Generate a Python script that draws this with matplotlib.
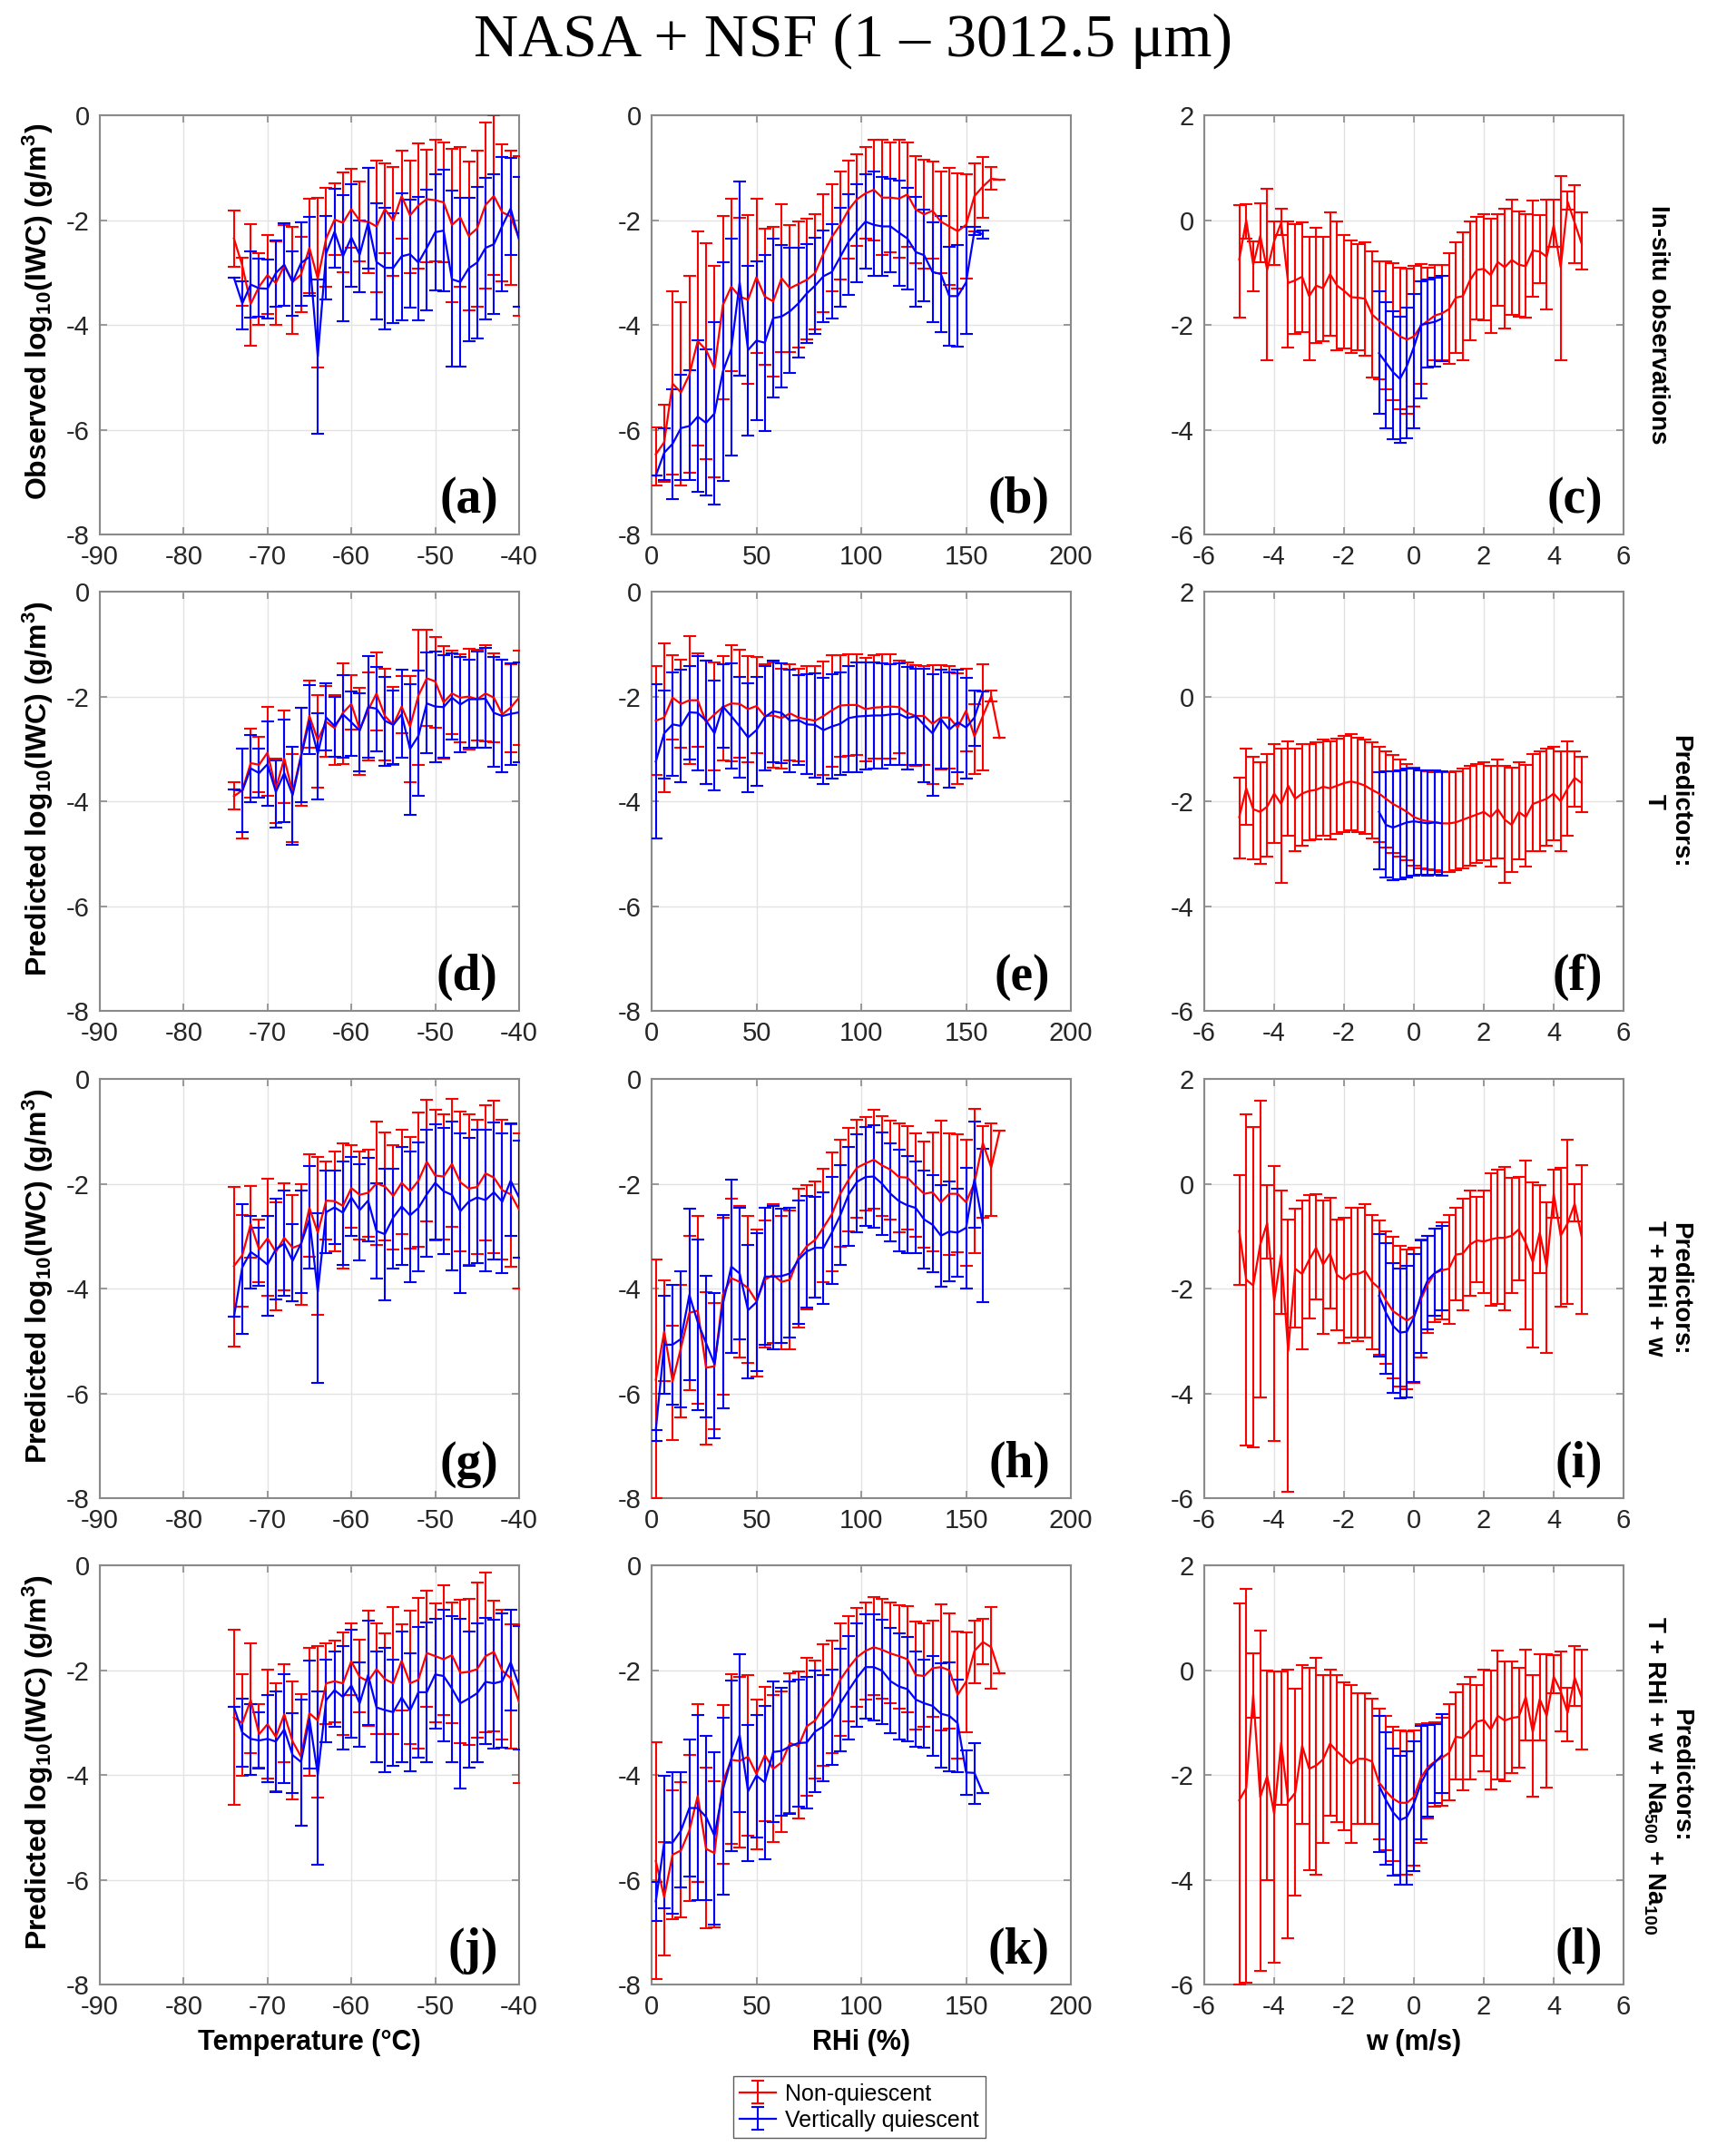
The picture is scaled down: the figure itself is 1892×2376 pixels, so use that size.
import numpy as np
import matplotlib
matplotlib.use('Agg')
import matplotlib.pyplot as plt

plt.rcParams['font.family'] = ['Liberation Sans', 'DejaVu Sans']
plt.rcParams['axes.unicode_minus'] = False
plt.rcParams['mathtext.fontset'] = 'custom'
plt.rcParams['mathtext.bf'] = 'Liberation Sans:bold'
plt.rcParams['mathtext.rm'] = 'Liberation Sans:bold'
plt.rcParams['mathtext.default'] = 'bf'

# ---------------- x grids ----------------
T_red = np.arange(-74, -39, 1)
T_blue = np.arange(-74, -39, 1)
RH_red = np.arange(2, 167, 4)
RH_blue = np.arange(2, 159, 4)
W_red = np.round(np.arange(-5.0, 4.81, 0.2), 1)
W_blue = np.round(np.arange(-1.0, 0.81, 0.2), 1)

# ---------------- (a) ----------------
a_red_mean = [-2.35,-2.87,-3.6,-3.27,-3.05,-3.2,-2.87,-3.18,-3.04,-2.53,-3.12,-2.35,-1.99,-2.05,-1.79,-2.01,-2.03,-2.12,-1.79,-2.01,-1.54,-1.91,-1.72,-1.6,-1.62,-1.66,-2.09,-1.95,-2.3,-2.16,-1.71,-1.54,-1.85,-1.93,-2.35]
a_red_hi = [-1.81,-2.72,-2.07,-2.63,-2.29,-2.4,-2.09,-2.12,-2.32,-1.6,-1.57,-1.39,-1.3,-1.09,-1.02,-1.27,-1.01,-0.87,-0.91,-0.98,-0.67,-0.86,-0.53,-0.65,-0.46,-0.52,-0.64,-0.6,-0.88,-0.67,-0.14,0.0,-0.55,-0.68,-0.78]
a_red_lo = [-2.89,-3.64,-4.39,-4.0,-3.79,-4.0,-3.63,-4.17,-3.76,-3.4,-4.81,-3.27,-2.67,-3.0,-2.53,-2.78,-3.02,-3.38,-2.63,-3.07,-2.36,-3.02,-2.92,-2.8,-2.79,-2.81,-3.56,-3.28,-3.72,-3.65,-3.3,-3.05,-3.17,-3.24,-3.82]
a_blue_mean = [-3.1,-3.59,-3.23,-3.3,-3.31,-3.01,-2.85,-3.18,-2.82,-2.7,-4.6,-2.63,-2.22,-2.69,-2.33,-2.66,-2.05,-2.8,-2.91,-2.91,-2.69,-2.65,-2.81,-2.53,-2.23,-2.2,-3.13,-3.18,-2.92,-2.81,-2.53,-2.46,-2.11,-1.78,-2.37]
a_blue_hi = [-3.1,-3.17,-2.59,-2.74,-2.75,-2.39,-2.06,-2.59,-2.05,-1.94,-3.13,-1.92,-1.4,-1.53,-1.31,-2.01,-1.0,-1.67,-1.77,-1.87,-1.49,-1.61,-1.55,-1.41,-1.13,-1.04,-1.43,-1.58,-1.58,-1.36,-1.2,-1.12,-0.8,-0.82,-1.18]
a_blue_lo = [-3.1,-4.09,-3.86,-3.85,-3.88,-3.66,-3.63,-3.83,-3.64,-3.45,-6.08,-3.51,-2.9,-3.93,-3.28,-3.37,-2.92,-3.89,-4.08,-3.96,-3.92,-3.67,-3.91,-3.72,-3.34,-3.36,-4.8,-4.8,-4.31,-4.26,-3.89,-3.79,-3.36,-2.66,-3.66]

# ---------------- (b) ----------------
b_red_mean = [-6.47,-6.24,-5.12,-5.29,-4.95,-4.31,-4.48,-4.83,-3.62,-3.27,-3.46,-3.52,-3.09,-3.46,-3.55,-3.11,-3.3,-3.22,-3.14,-3.01,-2.64,-2.32,-2.09,-1.8,-1.6,-1.49,-1.42,-1.57,-1.57,-1.59,-1.51,-1.8,-1.89,-1.82,-2.03,-2.12,-2.21,-2.09,-1.54,-1.36,-1.21,-1.23]
b_red_hi = [-5.95,-5.53,-3.36,-3.56,-3.07,-2.22,-2.44,-2.87,-1.92,-1.6,-1.96,-1.9,-1.59,-2.17,-2.12,-1.69,-2.1,-2.02,-1.98,-1.89,-1.51,-1.31,-1.07,-0.86,-0.74,-0.6,-0.46,-0.47,-0.51,-0.47,-0.51,-0.78,-0.85,-0.88,-1.08,-1.01,-1.11,-1.12,-0.91,-0.8,-0.99,-1.23]
b_red_lo = [-7.07,-6.99,-6.86,-7.07,-6.82,-6.3,-6.56,-6.91,-5.42,-4.89,-4.97,-5.13,-4.53,-4.76,-4.99,-4.51,-4.51,-4.44,-4.28,-4.08,-3.75,-3.35,-3.13,-2.73,-2.5,-2.35,-2.38,-2.67,-2.61,-2.71,-2.51,-2.82,-2.93,-2.74,-3.01,-3.23,-3.3,-3.12,-2.21,-1.95,-1.42,-1.23]
b_blue_mean = [-6.88,-6.44,-6.27,-5.97,-5.93,-5.75,-5.87,-5.69,-4.89,-4.46,-3.19,-4.48,-4.3,-4.34,-3.87,-3.84,-3.74,-3.59,-3.4,-3.25,-3.07,-2.99,-2.7,-2.41,-2.21,-2.03,-2.09,-2.12,-2.12,-2.24,-2.35,-2.61,-2.67,-2.99,-3.03,-3.45,-3.45,-3.19,-2.21,-2.27]
b_blue_hi = [-6.88,-5.98,-5.23,-4.96,-4.86,-4.3,-4.47,-3.94,-2.81,-2.36,-1.27,-2.88,-2.78,-2.66,-2.36,-2.47,-2.52,-2.52,-2.45,-2.33,-2.2,-2.08,-1.77,-1.51,-1.32,-1.13,-1.08,-1.17,-1.21,-1.24,-1.39,-1.56,-1.8,-2.04,-1.92,-2.51,-2.48,-2.13,-2.12,-2.19]
b_blue_lo = [-6.88,-6.96,-7.32,-6.96,-6.96,-7.18,-7.25,-7.42,-6.97,-6.49,-4.97,-6.12,-5.81,-6.03,-5.39,-5.19,-4.92,-4.63,-4.34,-4.17,-3.94,-3.87,-3.66,-3.43,-3.19,-2.92,-3.07,-3.06,-3.0,-3.25,-3.33,-3.66,-3.55,-3.94,-4.13,-4.39,-4.42,-4.18,-2.28,-2.36]

# ---------------- (c) ----------------
c_red_mean = [-0.75,0.0,-0.85,-0.3,-0.95,-0.4,-0.05,-1.2,-1.15,-1.08,-1.45,-1.25,-1.3,-1.03,-1.25,-1.35,-1.47,-1.48,-1.5,-1.8,-1.92,-2.02,-2.12,-2.22,-2.28,-2.22,-2.02,-1.92,-1.82,-1.78,-1.7,-1.48,-1.45,-1.15,-0.95,-0.93,-1.05,-0.8,-0.9,-0.76,-0.85,-0.88,-0.58,-0.6,-0.7,-0.1,-0.9,0.35,-0.05,-0.45]
c_red_hi = [0.29,0.3,-0.4,0.32,0.6,-0.03,0.22,-0.02,-0.08,-0.05,-0.32,-0.15,-0.32,0.15,-0.02,-0.28,-0.38,-0.45,-0.42,-0.6,-0.78,-0.79,-0.82,-0.91,-0.93,-0.87,-0.84,-0.91,-0.85,-0.85,-0.63,-0.43,-0.24,-0.02,0.07,0.12,0.03,0.12,0.21,0.39,0.16,0.11,0.38,0.09,0.39,0.39,0.84,0.54,0.66,0.15]
c_red_lo = [-1.86,-0.35,-1.35,-0.8,-2.67,-0.85,-0.28,-2.44,-2.17,-2.14,-2.67,-2.35,-2.31,-2.21,-2.49,-2.45,-2.54,-2.49,-2.59,-3.01,-3.04,-3.22,-3.43,-3.61,-3.7,-3.56,-3.12,-2.81,-2.67,-2.67,-2.75,-2.53,-2.67,-2.3,-1.9,-1.91,-2.15,-1.63,-2.07,-1.81,-1.85,-1.86,-1.46,-1.21,-1.7,-0.51,-2.67,0.2,-0.82,-0.94]
c_blue_mean = [-2.54,-2.72,-2.9,-3.03,-2.78,-2.42,-2.0,-1.97,-1.94,-1.88]
c_blue_hi = [-1.36,-1.56,-1.74,-1.84,-1.67,-1.41,-1.16,-1.13,-1.1,-1.06]
c_blue_lo = [-3.7,-3.97,-4.18,-4.25,-4.16,-3.97,-3.4,-2.82,-2.79,-2.69]

# ---------------- (d) ----------------
d_red_mean = [-3.9,-3.79,-3.27,-3.3,-3.07,-3.76,-3.18,-3.83,-3.12,-2.37,-2.83,-2.48,-2.6,-2.31,-2.14,-2.63,-2.26,-1.94,-2.37,-2.54,-2.19,-2.57,-1.98,-1.65,-1.71,-2.11,-1.94,-2.02,-2.0,-2.05,-1.94,-2.02,-2.34,-2.21,-2.02]
d_red_hi = [-3.64,-3.0,-2.62,-2.76,-2.19,-3.19,-2.26,-3.09,-2.21,-1.69,-1.97,-1.79,-1.97,-1.36,-1.59,-1.84,-1.53,-1.16,-1.46,-1.81,-1.6,-1.6,-0.72,-0.72,-0.86,-1.03,-1.13,-1.2,-1.09,-1.1,-1.01,-1.17,-1.3,-1.38,-1.13]
d_red_lo = [-4.15,-4.7,-3.92,-3.83,-3.9,-4.42,-4.03,-4.77,-4.08,-2.98,-3.73,-3.15,-3.3,-3.28,-2.63,-3.49,-3.21,-2.65,-3.22,-3.3,-2.7,-3.63,-3.31,-2.56,-2.6,-3.18,-2.72,-2.88,-3.01,-2.83,-2.85,-2.87,-3.44,-3.07,-2.93]
d_blue_mean = [-3.78,-3.8,-3.37,-3.46,-3.29,-3.82,-3.46,-3.88,-3.15,-2.46,-3.09,-2.4,-2.56,-2.34,-2.49,-2.65,-2.2,-2.23,-2.46,-2.54,-2.34,-3.0,-2.75,-2.13,-2.19,-2.2,-2.02,-2.15,-2.05,-2.05,-2.04,-2.31,-2.37,-2.33,-2.3]
d_blue_hi = [-3.78,-3.0,-2.74,-3.0,-2.48,-3.21,-2.43,-2.95,-2.22,-1.78,-2.31,-1.75,-2.0,-1.59,-1.9,-1.94,-1.23,-1.43,-1.62,-1.88,-1.49,-1.76,-1.5,-1.15,-1.14,-1.21,-1.17,-1.25,-1.29,-1.14,-1.07,-1.24,-1.3,-1.36,-1.35]
d_blue_lo = [-3.78,-4.59,-4.01,-3.92,-4.08,-4.5,-4.4,-4.82,-4.02,-3.09,-3.96,-3.02,-3.15,-3.16,-3.13,-3.43,-3.17,-3.05,-3.33,-3.29,-3.17,-4.25,-3.89,-3.08,-3.26,-3.17,-2.82,-3.07,-2.98,-2.98,-2.98,-3.34,-3.44,-3.3,-3.25]

# ---------------- (e) ----------------
e_red_mean = [-2.46,-2.4,-2.02,-2.14,-2.07,-2.07,-2.49,-2.34,-2.2,-2.13,-2.14,-2.24,-2.18,-2.37,-2.36,-2.41,-2.32,-2.4,-2.43,-2.46,-2.37,-2.26,-2.17,-2.16,-2.16,-2.24,-2.21,-2.2,-2.19,-2.2,-2.31,-2.37,-2.37,-2.52,-2.4,-2.4,-2.59,-2.27,-2.76,-2.37,-1.99,-2.79]
e_red_hi = [-1.41,-0.99,-1.21,-1.3,-0.85,-1.17,-1.32,-1.34,-1.23,-1.02,-1.1,-1.22,-1.25,-1.39,-1.34,-1.46,-1.39,-1.46,-1.41,-1.41,-1.33,-1.21,-1.21,-1.19,-1.19,-1.26,-1.21,-1.2,-1.19,-1.32,-1.34,-1.4,-1.42,-1.4,-1.4,-1.42,-1.56,-1.47,-2.15,-1.39,-1.88,-2.79]
e_red_lo = [-3.49,-3.82,-2.82,-2.98,-3.29,-2.96,-3.67,-3.4,-3.21,-3.23,-3.17,-3.26,-3.08,-3.41,-3.35,-3.38,-3.21,-3.24,-3.47,-3.54,-3.49,-3.34,-3.14,-3.13,-3.12,-3.24,-3.18,-3.19,-3.18,-3.08,-3.3,-3.33,-3.31,-3.66,-3.39,-3.38,-3.67,-3.05,-3.47,-3.4,-2.1,-2.79]
e_blue_mean = [-3.24,-2.7,-2.53,-2.56,-2.3,-2.31,-2.46,-2.7,-2.19,-2.37,-2.57,-2.78,-2.64,-2.39,-2.28,-2.31,-2.46,-2.45,-2.53,-2.54,-2.64,-2.57,-2.52,-2.41,-2.38,-2.37,-2.36,-2.36,-2.34,-2.33,-2.41,-2.37,-2.54,-2.7,-2.43,-2.63,-2.49,-2.59,-2.4,-1.91]
e_blue_hi = [-1.76,-1.89,-1.54,-1.49,-1.42,-1.23,-1.31,-1.69,-1.39,-1.36,-1.62,-1.74,-1.62,-1.42,-1.32,-1.36,-1.49,-1.59,-1.57,-1.56,-1.65,-1.57,-1.54,-1.42,-1.34,-1.35,-1.34,-1.36,-1.38,-1.37,-1.43,-1.46,-1.46,-1.57,-1.49,-1.54,-1.49,-1.64,-1.88,-1.91]
e_blue_lo = [-4.7,-3.56,-3.52,-3.63,-3.2,-3.4,-3.66,-3.79,-2.97,-3.38,-3.55,-3.83,-3.7,-3.4,-3.25,-3.27,-3.44,-3.3,-3.48,-3.55,-3.66,-3.57,-3.5,-3.44,-3.44,-3.39,-3.37,-3.37,-3.3,-3.31,-3.39,-3.3,-3.63,-3.89,-3.37,-3.74,-3.45,-3.56,-2.94,-1.91]

# ---------------- (f) ----------------
f_red_mean = [-2.3,-1.75,-2.15,-2.2,-2.1,-1.85,-2.05,-1.7,-1.95,-1.85,-1.8,-1.78,-1.72,-1.75,-1.7,-1.65,-1.62,-1.65,-1.7,-1.78,-1.85,-1.95,-2.05,-2.12,-2.2,-2.3,-2.35,-2.38,-2.4,-2.42,-2.42,-2.4,-2.35,-2.3,-2.25,-2.2,-2.3,-2.15,-2.35,-2.45,-2.2,-2.3,-2.05,-2.0,-1.95,-1.85,-2.0,-1.75,-1.55,-1.65]
f_red_hi = [-1.55,-1.0,-1.15,-1.25,-1.1,-0.9,-1.0,-0.85,-1.0,-0.9,-0.9,-0.88,-0.82,-0.85,-0.8,-0.75,-0.72,-0.78,-0.82,-0.88,-0.95,-1.05,-1.12,-1.2,-1.28,-1.35,-1.4,-1.42,-1.45,-1.45,-1.45,-1.42,-1.38,-1.32,-1.28,-1.25,-1.32,-1.2,-1.32,-1.35,-1.25,-1.3,-1.1,-1.05,-1.0,-0.95,-1.05,-0.85,-1.05,-1.15]
f_red_lo = [-3.08,-2.45,-3.1,-3.2,-3.05,-2.8,-3.55,-2.65,-2.95,-2.85,-2.75,-2.72,-2.65,-2.72,-2.62,-2.58,-2.55,-2.58,-2.62,-2.7,-2.78,-2.88,-2.98,-3.05,-3.12,-3.22,-3.28,-3.3,-3.32,-3.35,-3.35,-3.32,-3.28,-3.22,-3.18,-3.12,-3.25,-3.08,-3.55,-3.35,-3.1,-3.25,-2.95,-2.95,-2.85,-2.75,-2.95,-2.65,-2.1,-2.2]
f_blue_mean = [-2.2,-2.45,-2.5,-2.45,-2.4,-2.38,-2.4,-2.42,-2.4,-2.42]
f_blue_hi = [-1.45,-1.42,-1.42,-1.4,-1.38,-1.38,-1.4,-1.4,-1.4,-1.42]
f_blue_lo = [-3.3,-3.45,-3.5,-3.48,-3.45,-3.42,-3.4,-3.42,-3.4,-3.42]

# ---------------- (g) ----------------
g_red_mean = [-3.57,-3.36,-2.77,-3.25,-3.04,-3.3,-3.03,-3.22,-3.16,-2.46,-2.93,-2.32,-2.33,-2.42,-2.08,-2.21,-2.17,-1.99,-2.05,-2.23,-1.98,-2.14,-1.94,-1.58,-1.84,-1.86,-1.62,-1.97,-2.09,-2.06,-1.8,-1.88,-2.12,-2.2,-2.49]
g_red_hi = [-2.06,-2.6,-2.04,-2.68,-1.91,-2.35,-1.98,-2.22,-2.0,-1.44,-1.49,-1.57,-1.39,-1.23,-1.26,-1.38,-1.35,-0.81,-1.01,-1.26,-0.97,-1.1,-0.63,-0.39,-0.58,-0.67,-0.38,-0.62,-0.68,-0.78,-0.5,-0.41,-0.77,-0.87,-1.03]
g_red_lo = [-5.1,-4.35,-3.41,-3.87,-4.13,-4.41,-4.03,-4.24,-4.31,-3.39,-4.5,-3.06,-3.28,-3.62,-2.84,-3.07,-3.01,-3.17,-3.08,-3.26,-2.96,-3.23,-3.2,-2.71,-3.08,-3.06,-2.82,-3.29,-3.54,-3.34,-3.08,-3.33,-3.45,-3.58,-4.0]
g_blue_mean = [-4.54,-3.59,-3.3,-3.41,-3.54,-3.25,-3.14,-3.47,-3.14,-2.68,-4.06,-2.54,-2.45,-2.55,-2.26,-2.5,-2.32,-2.9,-2.96,-2.64,-2.43,-2.6,-2.46,-2.2,-1.98,-2.14,-2.21,-2.52,-2.34,-2.26,-2.31,-2.16,-2.34,-1.94,-2.26]
g_blue_hi = [-4.54,-2.38,-2.61,-2.84,-2.61,-2.29,-2.12,-2.77,-2.13,-1.66,-2.56,-1.74,-1.74,-1.58,-1.48,-1.63,-1.51,-1.98,-1.71,-1.72,-1.3,-1.38,-1.21,-0.96,-0.87,-0.94,-0.81,-1.03,-1.13,-0.97,-0.96,-0.83,-1.04,-0.85,-1.17]
g_blue_lo = [-4.54,-4.87,-4.0,-3.95,-4.52,-4.2,-4.14,-4.24,-4.09,-3.61,-5.8,-3.33,-3.15,-3.55,-2.99,-3.46,-3.1,-3.81,-4.23,-3.61,-3.55,-3.87,-3.66,-3.4,-3.07,-3.34,-3.65,-4.08,-3.57,-3.52,-3.66,-3.45,-3.7,-2.99,-3.41]

# ---------------- (h) ----------------
h_red_mean = [-5.74,-4.82,-5.77,-5.13,-4.46,-4.42,-5.51,-5.48,-4.12,-3.8,-3.87,-3.99,-4.24,-3.83,-3.74,-3.87,-3.83,-3.41,-3.19,-3.07,-2.83,-2.58,-2.19,-1.92,-1.69,-1.61,-1.54,-1.65,-1.73,-1.87,-1.88,-2.04,-2.19,-2.16,-2.35,-2.19,-2.19,-2.35,-1.98,-1.22,-1.69,-0.99]
h_red_hi = [-3.45,-3.84,-4.7,-3.92,-3.0,-2.62,-4.07,-4.28,-2.64,-2.29,-2.42,-2.62,-2.87,-2.7,-2.39,-2.61,-2.5,-2.09,-2.02,-1.96,-1.71,-1.4,-1.15,-0.93,-0.77,-0.72,-0.59,-0.7,-0.8,-0.85,-0.89,-1.03,-1.2,-1.01,-0.8,-1.03,-1.06,-1.16,-0.57,-0.9,-0.85,-0.99]
h_red_lo = [-8.0,-5.77,-6.89,-6.45,-5.94,-6.19,-6.97,-6.68,-6.02,-5.22,-5.32,-5.41,-5.68,-5.12,-5.03,-5.15,-5.16,-4.74,-4.39,-4.17,-3.88,-3.66,-3.2,-2.9,-2.65,-2.51,-2.48,-2.61,-2.68,-2.93,-2.88,-3.01,-3.21,-3.29,-3.96,-3.36,-3.3,-3.57,-3.33,-2.64,-2.62,-0.99]
h_blue_mean = [-6.7,-5.07,-5.07,-4.96,-4.12,-4.64,-5.04,-5.44,-4.29,-3.58,-3.71,-4.41,-4.26,-3.77,-3.77,-3.76,-3.71,-3.45,-3.29,-3.22,-3.22,-2.93,-2.6,-2.2,-1.96,-1.87,-1.86,-2.0,-2.19,-2.33,-2.41,-2.46,-2.68,-2.78,-2.99,-2.91,-2.93,-2.84,-1.91,-2.78]
h_blue_hi = [-6.7,-4.14,-3.93,-3.66,-2.48,-3.07,-3.75,-4.09,-2.6,-1.92,-2.45,-3.16,-2.94,-2.46,-2.42,-2.48,-2.46,-2.31,-2.23,-2.25,-2.16,-1.87,-1.65,-1.29,-1.06,-0.92,-0.88,-1.01,-1.22,-1.34,-1.47,-1.57,-1.74,-1.84,-2.03,-1.96,-2.09,-1.69,-0.81,-1.33]
h_blue_lo = [-6.91,-6.01,-6.21,-6.26,-5.74,-6.32,-6.45,-6.85,-6.29,-5.23,-4.96,-5.72,-5.58,-5.07,-5.16,-5.04,-4.94,-4.67,-4.36,-4.17,-4.29,-3.91,-3.54,-3.18,-2.92,-2.81,-2.83,-2.97,-3.1,-3.29,-3.32,-3.32,-3.61,-3.68,-3.96,-3.86,-3.77,-4.0,-2.84,-4.26]

# ---------------- (i) ----------------
i_red_mean = [-0.9,-1.83,-1.94,-1.16,-0.75,-2.23,-1.35,-3.19,-1.62,-1.72,-1.45,-1.22,-1.54,-1.33,-1.74,-1.83,-1.72,-1.72,-1.66,-1.87,-1.99,-2.23,-2.43,-2.52,-2.61,-2.52,-2.2,-1.91,-1.7,-1.65,-1.62,-1.35,-1.33,-1.16,-1.08,-1.1,-1.06,-1.03,-1.03,-0.99,-0.87,-1.13,-1.49,-0.93,-1.59,-0.19,-0.99,-0.75,-0.38,-1.01]
i_red_hi = [0.16,1.32,1.09,1.58,-0.03,0.34,-0.13,-0.68,-0.48,-0.31,-0.21,-0.2,-0.32,-0.27,-0.68,-0.65,-0.46,-0.45,-0.39,-0.6,-0.7,-0.9,-1.01,-1.19,-1.26,-1.22,-1.06,-0.99,-0.85,-0.74,-0.6,-0.46,-0.28,-0.13,-0.25,-0.12,0.2,0.27,0.32,0.12,0.13,0.45,0.03,-0.03,-0.36,0.27,0.3,0.84,0.0,0.36]
i_red_lo = [-1.92,-5.0,-5.03,-4.08,-1.42,-4.9,-2.48,-5.87,-2.74,-3.16,-2.57,-2.2,-2.86,-2.38,-2.8,-3.03,-2.94,-3.0,-2.93,-3.15,-3.26,-3.44,-3.71,-3.86,-3.92,-3.8,-3.32,-2.84,-2.63,-2.58,-2.68,-2.23,-2.42,-2.14,-1.87,-2.08,-2.32,-2.3,-2.41,-2.08,-1.84,-2.78,-3.13,-1.7,-3.22,-0.64,-2.35,-2.29,-0.72,-2.48]
i_blue_mean = [-2.14,-2.46,-2.71,-2.84,-2.82,-2.55,-2.14,-1.83,-1.7,-1.62]
i_blue_hi = [-0.96,-1.14,-1.51,-1.62,-1.57,-1.34,-1.08,-0.99,-0.86,-0.81]
i_blue_lo = [-3.29,-3.62,-3.99,-4.09,-4.08,-3.78,-3.23,-2.78,-2.51,-2.41]

# ---------------- (j) ----------------
j_red_mean = [-2.9,-3.01,-2.57,-3.22,-3.03,-3.27,-2.84,-3.36,-3.65,-2.82,-2.96,-2.25,-2.21,-2.25,-1.83,-2.13,-2.21,-1.98,-2.17,-2.25,-1.82,-2.25,-2.18,-1.67,-1.73,-1.79,-1.71,-2.05,-2.03,-1.98,-1.73,-1.65,-2.01,-2.15,-2.61]
j_red_hi = [-1.23,-2.07,-1.49,-2.65,-1.98,-2.25,-1.88,-2.21,-2.46,-1.58,-1.54,-1.49,-1.44,-1.27,-1.11,-1.42,-0.86,-1.11,-1.29,-0.8,-1.13,-0.87,-0.62,-0.48,-0.73,-0.37,-0.71,-0.65,-0.63,-0.32,-0.13,-0.67,-0.84,-1.13,-1.13]
j_red_lo = [-4.57,-4.01,-3.58,-3.85,-4.07,-4.31,-3.75,-4.46,-4.96,-4.02,-4.43,-3.03,-2.99,-3.23,-2.47,-2.81,-3.06,-3.22,-3.22,-3.22,-2.77,-3.4,-3.5,-2.69,-2.99,-2.85,-3.01,-3.39,-3.43,-3.29,-3.19,-3.16,-3.32,-3.49,-4.15]
j_blue_mean = [-2.7,-3.19,-3.31,-3.34,-3.31,-3.36,-3.13,-3.62,-3.75,-2.93,-3.99,-2.57,-2.38,-2.51,-2.29,-2.63,-2.09,-2.71,-2.76,-2.8,-2.52,-2.77,-2.42,-2.42,-2.08,-2.11,-2.35,-2.63,-2.54,-2.44,-2.22,-2.25,-2.21,-1.85,-2.29]
j_blue_hi = [-2.7,-2.54,-2.64,-2.81,-2.48,-2.41,-2.08,-2.82,-2.56,-1.82,-2.41,-1.79,-1.65,-1.54,-1.23,-1.85,-1.05,-1.64,-1.57,-1.79,-1.26,-1.67,-1.18,-1.08,-1.01,-0.84,-0.96,-1.01,-1.26,-1.1,-1.0,-1.04,-0.91,-0.85,-1.15]
j_blue_lo = [-2.7,-3.84,-3.99,-3.88,-4.14,-4.33,-4.15,-4.34,-4.97,-3.88,-5.72,-3.37,-3.08,-3.52,-3.29,-3.46,-3.04,-3.75,-3.94,-3.82,-3.75,-3.93,-3.66,-3.76,-3.12,-3.36,-3.75,-4.25,-3.85,-3.75,-3.4,-3.49,-3.48,-2.76,-3.52]

# ---------------- (k) ----------------
k_red_mean = [-5.64,-6.33,-5.52,-5.44,-5.06,-4.4,-5.41,-5.49,-4.13,-3.71,-3.73,-3.65,-3.98,-3.62,-3.88,-3.76,-3.39,-3.45,-3.07,-2.96,-2.7,-2.52,-2.18,-1.95,-1.75,-1.63,-1.56,-1.61,-1.68,-1.73,-1.79,-2.09,-2.11,-1.96,-1.94,-2.0,-2.47,-2.22,-1.63,-1.46,-1.56,-2.06]
k_red_hi = [-3.37,-5.28,-4.3,-4.14,-3.62,-2.64,-3.86,-4.11,-2.66,-2.08,-2.12,-2.09,-2.56,-2.32,-2.48,-2.41,-2.05,-2.03,-1.76,-1.82,-1.5,-1.43,-1.11,-0.96,-0.81,-0.7,-0.61,-0.63,-0.71,-0.76,-0.78,-1.07,-1.11,-1.05,-0.74,-0.92,-1.26,-1.27,-1.05,-1.01,-0.8,-2.06]
k_red_lo = [-7.9,-7.45,-6.75,-6.72,-6.41,-6.04,-6.93,-6.9,-5.69,-5.32,-5.38,-5.15,-5.41,-4.88,-5.28,-5.09,-4.73,-4.82,-4.4,-4.06,-3.82,-3.58,-3.26,-2.97,-2.7,-2.56,-2.48,-2.54,-2.63,-2.73,-2.81,-3.13,-3.08,-2.89,-3.14,-3.11,-3.69,-3.18,-2.24,-1.88,-2.36,-2.06]
k_blue_mean = [-6.41,-5.29,-5.29,-5.06,-4.63,-4.63,-4.8,-5.16,-4.28,-3.69,-3.24,-4.31,-4.01,-4.14,-3.56,-3.54,-3.45,-3.39,-3.38,-3.17,-3.07,-2.93,-2.63,-2.38,-2.14,-1.94,-1.94,-2.01,-2.21,-2.31,-2.36,-2.56,-2.63,-2.68,-2.83,-2.87,-3.01,-3.95,-3.96,-4.34]
k_blue_hi = [-6.04,-4.02,-3.94,-3.94,-3.33,-2.86,-3.26,-3.56,-2.91,-2.2,-1.7,-3.05,-2.86,-2.68,-2.21,-2.33,-2.21,-2.18,-2.13,-2.01,-2.09,-1.99,-1.59,-1.34,-1.11,-0.94,-0.93,-1.03,-1.2,-1.3,-1.37,-1.65,-1.79,-1.73,-1.86,-1.85,-2.18,-3.53,-3.39,-4.34]
k_blue_lo = [-6.79,-6.54,-6.65,-6.14,-5.94,-6.39,-6.39,-6.85,-6.28,-5.45,-4.7,-5.64,-5.19,-5.61,-4.9,-4.77,-4.74,-4.6,-4.64,-4.33,-4.11,-3.8,-3.54,-3.33,-3.08,-2.93,-2.96,-3.03,-3.2,-3.32,-3.35,-3.46,-3.48,-3.64,-3.85,-3.92,-3.94,-4.38,-4.56,-4.34]

# ---------------- (l) ----------------
l_red_mean = [-2.48,-2.25,-0.46,-2.42,-2.02,-2.74,-1.38,-2.51,-2.34,-1.44,-1.88,-1.82,-1.7,-1.4,-1.55,-1.67,-1.79,-1.69,-1.69,-1.74,-2.14,-2.31,-2.45,-2.53,-2.53,-2.42,-2.05,-1.85,-1.74,-1.67,-1.58,-1.27,-1.29,-1.15,-0.98,-0.95,-1.13,-0.87,-0.96,-0.91,-0.89,-0.51,-1.18,-0.55,-0.87,-0.12,-0.4,-0.81,-0.14,-0.52]
l_red_hi = [1.28,1.55,0.33,0.76,0.0,-0.03,-0.02,0.02,-0.35,0.1,0.05,0.23,-0.1,0.01,-0.1,-0.23,-0.28,-0.44,-0.44,-0.55,-0.74,-0.88,-1.08,-1.14,-1.17,-1.14,-1.03,-1.01,-1.0,-0.91,-0.65,-0.42,-0.26,-0.13,-0.28,0.02,-0.01,0.38,0.17,0.16,0.05,0.4,-0.1,0.31,0.3,0.29,0.36,-0.33,0.46,0.39]
l_red_lo = [-6.0,-5.96,-0.91,-5.74,-4.01,-5.59,-2.57,-5.12,-4.3,-2.93,-3.81,-3.91,-3.29,-2.77,-2.89,-3.05,-3.3,-2.93,-2.94,-2.93,-3.22,-3.43,-3.64,-3.91,-3.91,-3.73,-3.29,-2.82,-2.61,-2.59,-2.48,-2.09,-2.3,-2.09,-1.64,-1.92,-2.28,-2.09,-2.12,-1.96,-1.86,-1.34,-2.42,-1.34,-2.24,-0.43,-1.17,-1.36,-0.68,-1.51]
l_blue_mean = [-2.2,-2.48,-2.71,-2.86,-2.8,-2.54,-2.16,-1.9,-1.76,-1.62]
l_blue_hi = [-0.87,-1.18,-1.5,-1.63,-1.55,-1.36,-1.07,-1.04,-1.03,-0.84]
l_blue_lo = [-3.47,-3.71,-3.92,-4.1,-4.09,-3.84,-3.22,-2.8,-2.54,-2.34]

# ---------------- labels ----------------
panel_letters = ['(a)','(b)','(c)','(d)','(e)','(f)','(g)','(h)','(i)','(j)','(k)','(l)']
row_ylabels = ['Observed log$_{10}$(IWC) (g/m$^3$)',
               'Predicted log$_{10}$(IWC) (g/m$^3$)',
               'Predicted log$_{10}$(IWC) (g/m$^3$)',
               'Predicted log$_{10}$(IWC) (g/m$^3$)']
row_right = ['In-situ observations',
             'Predictors:\nT',
             'Predictors:\nT + RHi + w',
             'Predictors:\nT + RHi + w + Na$_{500}$ + Na$_{100}$']
col_xlabels = ['Temperature (\u00b0C)', 'RHi (%)', 'w (m/s)']
col_xticks = [[-90,-80,-70,-60,-50,-40], [0,50,100,150,200], [-6,-4,-2,0,2,4,6]]
col_xlim = [(-90,-40), (0,200), (-6,6)]
col_yticks = [[-8,-6,-4,-2,0], [-8,-6,-4,-2,0], [-6,-4,-2,0,2]]
col_ylim = [(-8,0), (-8,0), (-6,2)]
legend_labels = ['Non-quiescent', 'Vertically quiescent']
title_text = 'NASA + NSF (1 \u2013 3012.5 \u03bcm)'

G = globals()
col_x = [(T_red, T_blue), (RH_red, RH_blue), (W_red, W_blue)]

fig = plt.figure(figsize=(18.92, 23.76), dpi=100)
lefts = [0.0581, 0.3795, 0.7014]
bottoms = [0.7521, 0.5311, 0.3051, 0.0795]
W, H = 0.2442, 0.1944

def draw(ax, x, m, lo, hi, color, label):
    m = np.asarray(m, float)
    lo = np.asarray(lo, float)
    hi = np.asarray(hi, float)
    yerr = np.vstack([np.clip(m - lo, 0, None), np.clip(hi - m, 0, None)])
    return ax.errorbar(x, m, yerr=yerr, color=color, lw=1.6, elinewidth=1.5,
                       capsize=5, capthick=1.5, label=label, zorder=3)

handles = None
spine_c = '#8a8a8a'
for r in range(4):
    for c in range(3):
        idx = r * 3 + c
        key = 'abcdefghijkl'[idx]
        ax = fig.add_axes([lefts[c], bottoms[r], W, H])
        xr, xb = col_x[c]
        h1 = draw(ax, xr, G[key + '_red_mean'], G[key + '_red_lo'], G[key + '_red_hi'], '#ff0000', legend_labels[0])
        h2 = draw(ax, xb, G[key + '_blue_mean'], G[key + '_blue_lo'], G[key + '_blue_hi'], '#0000ff', legend_labels[1])
        if handles is None:
            handles = [h1, h2]
        ax.set_xlim(*col_xlim[c])
        ax.set_ylim(*col_ylim[c])
        ax.set_xticks(col_xticks[c])
        ax.set_yticks(col_yticks[c])
        ax.grid(True, color='#e3e3e3', lw=1.0)
        ax.set_axisbelow(True)
        for s in ax.spines.values():
            s.set_color(spine_c)
            s.set_linewidth(1.5)
        ax.tick_params(direction='in', length=6, width=1.2, color=spine_c,
                       labelcolor='#262626', labelsize=21, top=True, right=True, pad=8)
        ax.text(0.95, 0.025, panel_letters[idx], transform=ax.transAxes,
                ha='right', va='bottom', fontsize=40, fontweight='bold',
                family='Liberation Serif', zorder=5)
        if r == 3:
            fig.text(lefts[c] + W / 2, 0.0525, col_xlabels[c], ha='center', va='center',
                     fontsize=22, fontweight='bold')
    fig.text(0.022, bottoms[r] + H / 2 + 0.006, row_ylabels[r], rotation=90, ha='center', va='center',
             fontsize=23, fontweight='bold')
    xr_ = 0.9656 if r == 0 else 0.971
    fig.text(xr_, bottoms[r] + H / 2, row_right[r], rotation=270, ha='center', va='center',
             multialignment='center', fontsize=20, fontweight='bold', linespacing=1.1)

fig.text(0.497, 0.981, title_text, family='Liberation Serif', fontsize=49,
         ha='center', va='center')

leg = fig.legend(handles, legend_labels, loc='center', bbox_to_anchor=(0.5006, 0.0227),
                 fontsize=18, frameon=True, fancybox=False, edgecolor='#333333',
                 handlelength=1.6, borderpad=0.3, labelspacing=0.2, handletextpad=0.4)
leg.get_frame().set_linewidth(1.0)

fig.savefig('out.png', dpi=100, facecolor='white')
